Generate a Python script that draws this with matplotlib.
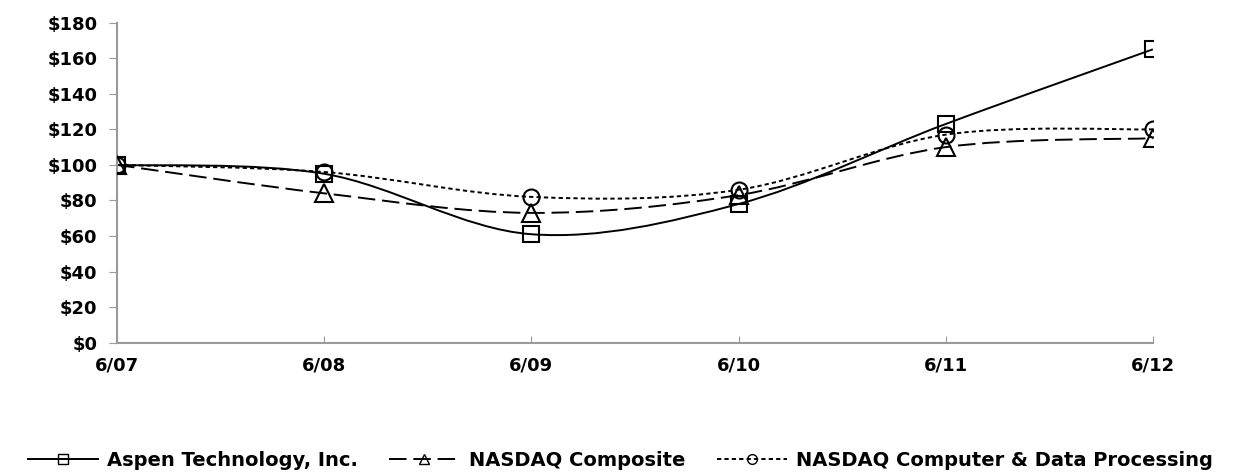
import matplotlib
matplotlib.use("Agg")
import matplotlib.pyplot as plt
from matplotlib.path import Path
from matplotlib.patches import PathPatch
from matplotlib.lines import Line2D

# ---- data ----
periods = ["6/07", "6/08", "6/09", "6/10", "6/11", "6/12"]
aspen = [100, 95, 61, 78, 123, 165]
nasdaq_comp = [100, 84, 73, 83, 110, 115]
nasdaq_cdp = [100, 96, 82, 86, 117, 120]
y_ticks = [0, 20, 40, 60, 80, 100, 120, 140, 160, 180]
y_labels = ["$%d" % v for v in y_ticks]
series_names = ["Aspen Technology, Inc.", "NASDAQ Composite",
                "NASDAQ Computer & Data Processing"]

plt.rcParams['font.family'] = ['DejaVu Sans']
plt.rcParams['font.weight'] = 'bold'

fig = plt.figure(figsize=(12.41, 4.72), dpi=100)
ax = fig.add_axes([0.0943, 0.274, 0.8347, 0.678])

x = list(range(len(periods)))


def smooth_path(xs, ys):
    """Excel-like smoothed bezier path through the data points."""
    n = len(xs)
    verts = [(xs[0], ys[0])]
    codes = [Path.MOVETO]
    for i in range(n - 1):
        p0 = (xs[max(i - 1, 0)], ys[max(i - 1, 0)])
        p1 = (xs[i], ys[i])
        p2 = (xs[i + 1], ys[i + 1])
        p3 = (xs[min(i + 2, n - 1)], ys[min(i + 2, n - 1)])
        c1 = (p1[0] + (p2[0] - p0[0]) / 6.0, p1[1] + (p2[1] - p0[1]) / 6.0)
        c2 = (p2[0] - (p3[0] - p1[0]) / 6.0, p2[1] - (p3[1] - p1[1]) / 6.0)
        verts += [c1, c2, p2]
        codes += [Path.CURVE4] * 3
    return Path(verts, codes)


lw = 1.4
styles = [
    (aspen, 's', '-', 11.5),
    (nasdaq_comp, '^', (0, (9, 3.5)), 12.5),
    (nasdaq_cdp, 'o', (0, (2.2, 1.6)), 11.5),
]
handles = []
for (vals, mk, ls, ms), name in zip(styles, series_names):
    patch = PathPatch(smooth_path(x, vals), fill=False, edgecolor='black',
                      linewidth=lw, linestyle=ls, zorder=2)
    ax.add_patch(patch)
    ax.plot(x, vals, linestyle='none', marker=mk, markersize=ms,
            markerfacecolor='none', markeredgecolor='black',
            markeredgewidth=1.5, zorder=3)
    handles.append(Line2D([0], [0], color='black', linewidth=lw, linestyle=ls,
                          marker=mk, markersize=7, markerfacecolor='none',
                          markeredgecolor='black', markeredgewidth=1.0,
                          label=name))

ax.set_xlim(0, len(periods) - 1)
ax.set_ylim(0, 180)
ax.set_xticks(x)
ax.set_xticklabels(periods, fontsize=13, fontweight='bold')
ax.set_yticks(y_ticks)
ax.set_yticklabels(y_labels, fontsize=13, fontweight='bold')
ax.tick_params(axis='y', direction='out', length=6, color='#999999', pad=8)
ax.tick_params(axis='x', direction='in', length=5, color='#999999', pad=10)
for s in ['top', 'right']:
    ax.spines[s].set_visible(False)
for s in ['left', 'bottom']:
    ax.spines[s].set_color('#999999')
    ax.spines[s].set_linewidth(1.5)
for lbl in ax.get_xticklabels() + ax.get_yticklabels():
    lbl.set_clip_on(False)

fig.legend(handles=handles, loc='center', bbox_to_anchor=(0.5, 0.025),
           ncol=3, frameon=False, handlelength=3.6,
           columnspacing=1.6, handletextpad=0.5,
           prop={'weight': 'bold', 'size': 14})

fig.savefig("out.png", dpi=100)
